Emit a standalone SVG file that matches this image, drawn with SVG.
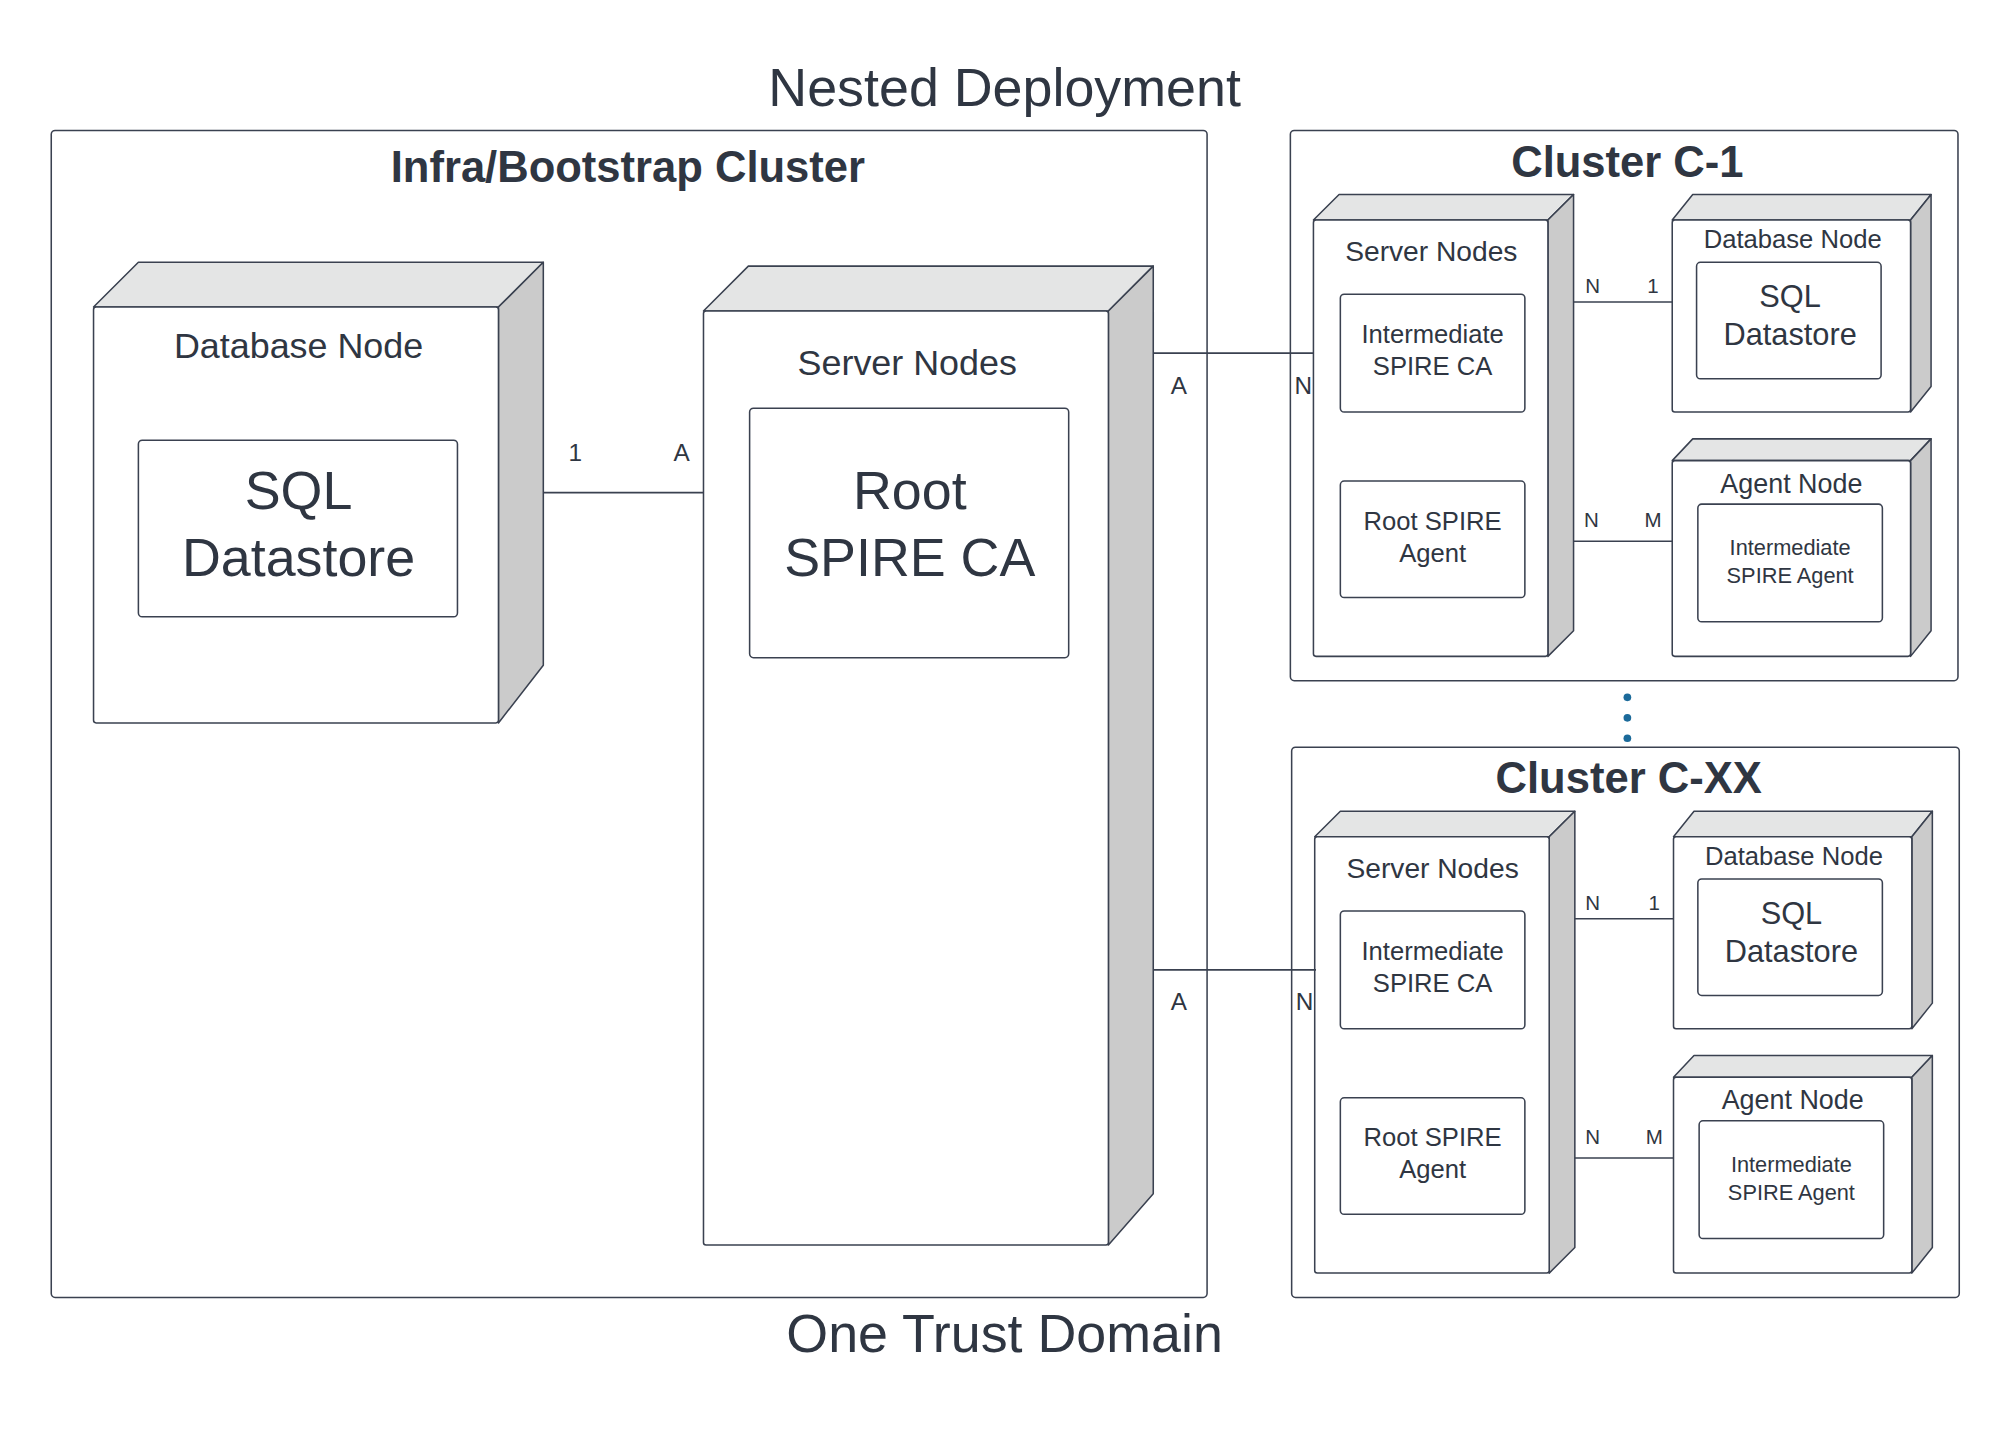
<svg xmlns="http://www.w3.org/2000/svg" width="1999" height="1433" viewBox="0 0 1999 1433">
<style>
text{font-family:"Liberation Sans",Arial,sans-serif;fill:#2f3642;text-anchor:middle}
.b{font-weight:bold}
.fr{fill:#fff;stroke:#3a4150;stroke-width:1.2}
.tp{fill:#e4e5e5;stroke:#3a4150;stroke-width:1.2;stroke-linejoin:round}
.sd{fill:#cbcbcb;stroke:#3a4150;stroke-width:1.2;stroke-linejoin:round}
.ln{stroke:#3a4150;stroke-width:1.2;fill:none}
</style>
<rect width="1999" height="1433" fill="#fff"/>
<g transform="scale(1.2814,1.2795)">
<text x="784" y="83" font-size="42">Nested Deployment</text>
<text x="784" y="1057" font-size="42">One Trust Domain</text>
<g id="infra"><rect class="fr" x="40" y="102" width="902" height="912" rx="3"/><text class="b" x="490" y="142" font-size="34">Infra/Bootstrap Cluster</text></g>
<g id="db-main">
<polygon class="tp" points="73,240 108,205 424,205 389,240"/>
<polygon class="sd" points="389,240 424,205 424,520 389,565"/>
<rect class="fr" x="73" y="240" width="316" height="325" rx="2"/>
<text x="233" y="280" font-size="28">Database Node</text>
<rect class="fr" x="108" y="344" width="249" height="138" rx="3"/>
<text x="233" y="398" font-size="42">SQL</text><text x="233" y="450" font-size="42">Datastore</text>
</g>
<g id="server-main">
<polygon class="tp" points="549,243 584,208 900,208 865,243"/>
<polygon class="sd" points="865,243 900,208 900,933 865,973"/>
<rect class="fr" x="549" y="243" width="316" height="730" rx="2"/>
<text x="708" y="293" font-size="28">Server Nodes</text>
<rect class="fr" x="585" y="319" width="249" height="195" rx="3"/>
<text x="710" y="398" font-size="42">Root</text><text x="710" y="450" font-size="42">SPIRE CA</text>
</g>
<g id="c1">
<rect class="fr" x="1007" y="102" width="521" height="430" rx="3"/>
<text class="b" x="1270" y="138" font-size="34">Cluster C-1</text>
<polygon class="tp" points="1025,172 1045,152 1228,152 1208,172"/>
<polygon class="sd" points="1208,172 1228,152 1228,493 1208,513"/>
<rect class="fr" x="1025" y="172" width="183" height="341" rx="2"/>
<text x="1117" y="204" font-size="22">Server Nodes</text>
<rect class="fr" x="1046" y="230" width="144" height="92" rx="3"/>
<text x="1118" y="268" font-size="20">Intermediate</text><text x="1118" y="293" font-size="20">SPIRE CA</text>
<rect class="fr" x="1046" y="376" width="144" height="91" rx="3"/>
<text x="1118" y="414" font-size="20">Root SPIRE</text><text x="1118" y="439" font-size="20">Agent</text>
<polygon class="tp" points="1305,172 1321,152 1507,152 1491,172"/>
<polygon class="sd" points="1491,172 1507,152 1507,302 1491,322"/>
<rect class="fr" x="1305" y="172" width="186" height="150" rx="2"/>
<text x="1399" y="194" font-size="20">Database Node</text>
<rect class="fr" x="1324" y="205" width="144" height="91" rx="3"/>
<text x="1397" y="240" font-size="24">SQL</text><text x="1397" y="270" font-size="24">Datastore</text>
<polygon class="tp" points="1305,360 1321,343 1507,343 1491,360"/>
<polygon class="sd" points="1491,360 1507,343 1507,493 1491,513"/>
<rect class="fr" x="1305" y="360" width="186" height="153" rx="2"/>
<text x="1398" y="385" font-size="21">Agent Node</text>
<rect class="fr" x="1325" y="394" width="144" height="92" rx="3"/>
<text x="1397" y="434" font-size="17">Intermediate</text><text x="1397" y="456" font-size="17">SPIRE Agent</text>
</g>
<g id="cxx" transform="translate(1,482)">
<rect class="fr" x="1007" y="102" width="521" height="430" rx="3"/>
<text class="b" x="1270" y="138" font-size="34">Cluster C-XX</text>
<polygon class="tp" points="1025,172 1045,152 1228,152 1208,172"/>
<polygon class="sd" points="1208,172 1228,152 1228,493 1208,513"/>
<rect class="fr" x="1025" y="172" width="183" height="341" rx="2"/>
<text x="1117" y="204" font-size="22">Server Nodes</text>
<rect class="fr" x="1045" y="230" width="144" height="92" rx="3"/>
<text x="1117" y="268" font-size="20">Intermediate</text><text x="1117" y="293" font-size="20">SPIRE CA</text>
<rect class="fr" x="1045" y="376" width="144" height="91" rx="3"/>
<text x="1117" y="414" font-size="20">Root SPIRE</text><text x="1117" y="439" font-size="20">Agent</text>
<polygon class="tp" points="1305,172 1321,152 1507,152 1491,172"/>
<polygon class="sd" points="1491,172 1507,152 1507,302 1491,322"/>
<rect class="fr" x="1305" y="172" width="186" height="150" rx="2"/>
<text x="1399" y="194" font-size="20">Database Node</text>
<rect class="fr" x="1324" y="205" width="144" height="91" rx="3"/>
<text x="1397" y="240" font-size="24">SQL</text><text x="1397" y="270" font-size="24">Datastore</text>
<polygon class="tp" points="1305,360 1321,343 1507,343 1491,360"/>
<polygon class="sd" points="1491,360 1507,343 1507,493 1491,513"/>
<rect class="fr" x="1305" y="360" width="186" height="153" rx="2"/>
<text x="1398" y="385" font-size="21">Agent Node</text>
<rect class="fr" x="1325" y="394" width="144" height="92" rx="3"/>
<text x="1397" y="434" font-size="17">Intermediate</text><text x="1397" y="456" font-size="17">SPIRE Agent</text>
</g>
<g id="connectors">
<path class="ln" d="M424,385H549M900,276H1025M900,758H1027M1228,236H1305M1228,423H1305M1229,718H1306M1229,905H1306"/>
<g font-size="19"><text x="449" y="360">1</text><text x="532" y="360">A</text>
<text x="920" y="308">A</text><text x="1017" y="308">N</text>
<text x="920" y="789">A</text><text x="1018" y="789">N</text></g>
<g font-size="16"><text x="1243" y="229">N</text><text x="1290" y="229">1</text>
<text x="1242" y="412">N</text><text x="1290" y="412">M</text>
<text x="1243" y="711">N</text><text x="1291" y="711">1</text>
<text x="1243" y="894">N</text><text x="1291" y="894">M</text></g>
</g>
<g id="dots" fill="#1b6a9a"><circle cx="1270" cy="545" r="3"/><circle cx="1270" cy="561" r="3"/><circle cx="1270" cy="577" r="3"/></g>
</g>
</svg>
